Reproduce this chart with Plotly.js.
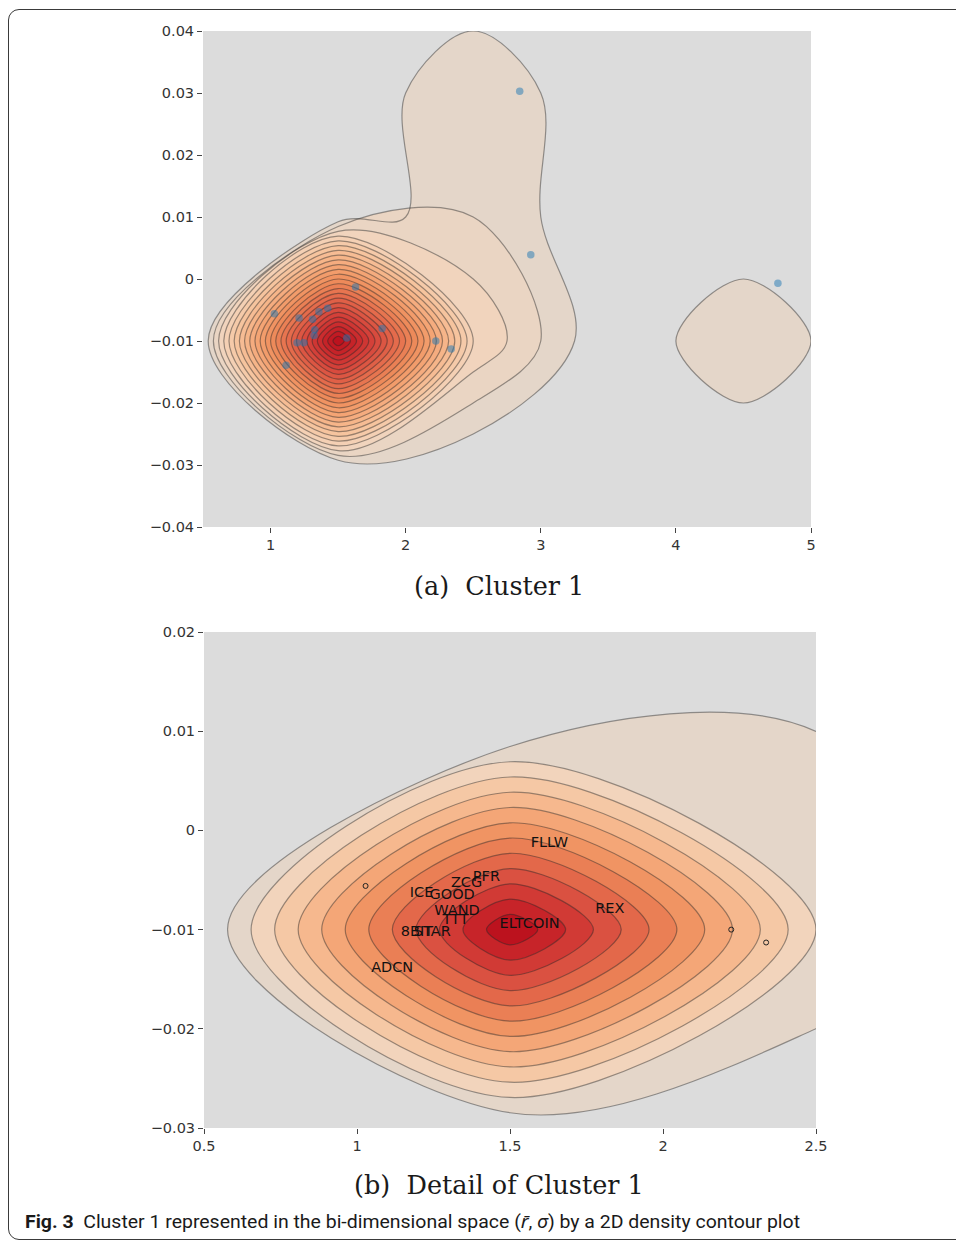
<!DOCTYPE html>
<html>
<head>
<meta charset="utf-8">
<script src="https://cdn.plot.ly/plotly-3.0.1.min.js"></script>
<style>
  html, body { margin: 0; padding: 0; background: #ffffff; }
  #wrap { position: relative; width: 956px; height: 1240px; overflow: hidden; }
  #chart { position: absolute; left: 0; top: 0; width: 956px; height: 1240px; }
  #frame { position: absolute; left: 8px; top: 9px; width: 970px; height: 1229px;
           border: 1.3px solid #3a3a3a; border-radius: 11px; pointer-events: none; }
  #figcap { position: absolute; left: 25px; top: 1210px; white-space: nowrap;
            font-family: Roboto, 'Noto Sans', sans-serif; font-size: 18px; color: #1a1a1a;
            transform-origin: 0 50%; line-height: 24px; }
</style>
</head>
<body>
<div id="wrap">
  <div id="chart"></div>
  <div id="figcap"></div>
  <div id="frame"></div>
</div>
<script>
// ---- data ----
const coinNames = ['', 'ADCN', 'ICE', 'GOOD', 'ZCG', 'PFR', 'WAND', 'TTT', '8BIT', 'STAR',
                   'ELTCOIN', 'FLLW', 'REX', '', '', '', '', ''];
const meanReturn = [1.028, 1.115, 1.211, 1.311, 1.358, 1.423, 1.327, 1.322, 1.196, 1.246,
                    1.564, 1.629, 1.826, 2.223, 2.337, 2.926, 2.844, 4.755];
const stdDev = [-0.0056, -0.0139, -0.0063, -0.0065, -0.0053, -0.0047, -0.0082, -0.0091, -0.0103, -0.0103,
                -0.0095, -0.0013, -0.0080, -0.0100, -0.0113, 0.0039, 0.0303, -0.0007];

const xTicksA = [1, 2, 3, 4, 5];
const yTicksA = [-0.04, -0.03, -0.02, -0.01, 0, 0.01, 0.02, 0.03, 0.04];
const xTicksB = [0.5, 1, 1.5, 2, 2.5];
const yTicksB = [-0.03, -0.02, -0.01, 0, 0.01, 0.02];

const captionA = '(a)  Cluster 1';
const captionB = '(b)  Detail of Cluster 1';
const figCaptionHtml = '<b>Fig. 3</b>&nbsp; Cluster 1 represented in the bi-dimensional space (<i>r̄</i>, <i>σ</i>) by a 2D density contour plot';

// ---- style ----
const ramp = [[228,214,201], [243,212,187], [246,197,160], [246,179,135],
              [243,159,110], [237,138,90], [230,113,78], [221,88,68],
              [211,62,56], [200,38,42], [188,18,30]];
function rampColor(u) {
  const p = u * (ramp.length - 1);
  const i = Math.min(ramp.length - 2, Math.floor(p));
  const t = p - i;
  const c = ramp[i].map((v, k) => Math.round(v + (ramp[i + 1][k] - v) * t));
  return 'rgb(' + c.join(',') + ')';
}
// piecewise-flat scale: one flat colour per filled band (nBands bands above the lowest level)
function buildScale(nBands) {
  const cs = [[0, 'rgba(220,220,220,0)'], [0.6 / nBands, 'rgba(220,220,220,0)']];
  for (let k = 1; k <= nBands; k++) {
    const col = rampColor((k - 1) / (nBands - 1));
    cs.push([(k - 0.1) / nBands, col]);
    cs.push([Math.min(1, (k + 0.6) / nBands), col]);
  }
  return cs;
}
const W = 956, H = 1240;
const px = v => v / W;
const py = v => 1 - v / H;
const tickFont = {family: 'DejaVu Sans', size: 14.5, color: '#333'};
const lineStyle = {color: 'rgba(40,40,40,0.45)', width: 1.2, smoothing: 1};
const fmtY = v => v === 0 ? '0' : (v < 0 ? '\u2212' + Math.abs(v).toFixed(2) : v.toFixed(2));

const binsX = {start: -1, end: 7, size: 1};
const binsY = {start: -0.06, end: 0.06, size: 0.02};

const labeledIdx = coinNames.map((n, i) => i).filter(i => coinNames[i] !== '');
const plainIdx = coinNames.map((n, i) => i).filter(i => coinNames[i] === '');

const traces = [
  {
    type: 'histogram2dcontour', x: meanReturn, y: stdDev,
    xbins: binsX, ybins: binsY, autobinx: false, autobiny: false,
    xaxis: 'x', yaxis: 'y',
    autocontour: false,
    contours: {start: 0.5, end: 12.5, size: 0.5, coloring: 'fill', showlines: true},
    line: lineStyle,
    colorscale: buildScale(25),
    showscale: false, hoverinfo: 'skip'
  },
  {
    type: 'scatter', mode: 'markers', x: meanReturn, y: stdDev,
    xaxis: 'x', yaxis: 'y',
    marker: {color: '#1f77b4', size: 7.5, opacity: 0.5},
    hoverinfo: 'skip', showlegend: false
  },
  {
    type: 'histogram2dcontour', x: meanReturn, y: stdDev,
    xbins: binsX, ybins: binsY, autobinx: false, autobiny: false,
    xaxis: 'x2', yaxis: 'y2',
    autocontour: false,
    contours: {start: 1.001, end: 12.001, size: 1, coloring: 'fill', showlines: true},
    line: lineStyle,
    colorscale: buildScale(12),
    showscale: false, hoverinfo: 'skip'
  },
  {
    type: 'scatter', mode: 'markers',
    x: plainIdx.map(i => meanReturn[i]), y: plainIdx.map(i => stdDev[i]),
    xaxis: 'x2', yaxis: 'y2',
    marker: {symbol: 'circle-open', size: 5, color: '#222', line: {width: 1}},
    hoverinfo: 'skip', showlegend: false
  },
  {
    type: 'scatter', mode: 'text',
    x: labeledIdx.map(i => meanReturn[i]), y: labeledIdx.map(i => stdDev[i]),
    text: labeledIdx.map(i => coinNames[i]),
    textposition: 'middle center',
    textfont: {family: 'DejaVu Sans', size: 14.5, color: '#111'},
    xaxis: 'x2', yaxis: 'y2',
    hoverinfo: 'skip', showlegend: false
  }
];

const axisCommon = {
  showgrid: false, zeroline: false, showline: false,
  ticks: 'outside', ticklen: 5, tickwidth: 1, tickcolor: '#444',
  tickfont: tickFont, tickmode: 'array'
};

const layout = {
  width: W, height: H,
  margin: {l: 0, r: 0, t: 0, b: 0},
  paper_bgcolor: 'rgba(0,0,0,0)',
  plot_bgcolor: '#dcdcdc',
  showlegend: false,
  xaxis: Object.assign({}, axisCommon, {domain: [px(203), px(811)], range: [0.5, 5],
          tickvals: xTicksA, ticktext: xTicksA.map(String), anchor: 'y'}),
  yaxis: Object.assign({}, axisCommon, {domain: [py(527), py(31)], range: [-0.04, 0.04],
          tickvals: yTicksA, ticktext: yTicksA.map(fmtY), anchor: 'x'}),
  xaxis2: Object.assign({}, axisCommon, {domain: [px(204), px(816)], range: [0.5, 2.5],
          tickvals: xTicksB, ticktext: xTicksB.map(String), anchor: 'y2'}),
  yaxis2: Object.assign({}, axisCommon, {domain: [py(1128), py(632)], range: [-0.03, 0.02],
          tickvals: yTicksB, ticktext: yTicksB.map(fmtY), anchor: 'x2'}),
  annotations: [
    {text: captionA, xref: 'paper', yref: 'paper', x: px(499), y: py(586), xanchor: 'center', yanchor: 'middle',
     showarrow: false, font: {family: 'DejaVu Serif', size: 25.5, color: '#1a1a1a'}},
    {text: captionB, xref: 'paper', yref: 'paper', x: px(499), y: py(1185), xanchor: 'center', yanchor: 'middle',
     showarrow: false, font: {family: 'DejaVu Serif', size: 25.5, color: '#1a1a1a'}}
  ]
};

Plotly.newPlot('chart', traces, layout, {staticPlot: true, displayModeBar: false});

const cap = document.getElementById('figcap');
cap.innerHTML = figCaptionHtml;
const wNow = cap.getBoundingClientRect().width;
if (wNow > 0) cap.style.transform = 'scaleX(' + (775 / wNow).toFixed(4) + ')';
</script>
</body>
</html>
